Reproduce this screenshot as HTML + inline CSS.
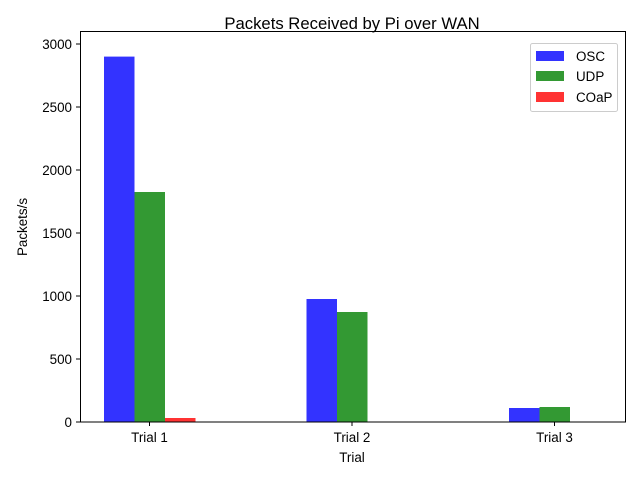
<!DOCTYPE html>
<html><head><style>body{margin:0;background:#fff}svg{display:block}text{font-family:"Liberation Sans",sans-serif;fill:#000}</style></head>
<body>
<svg width="640" height="480" xmlns="http://www.w3.org/2000/svg">
<rect width="640" height="480" fill="#fff"/>
<rect x="104" y="56.6" width="30.5" height="365.4" fill="#3333ff"/>
<rect x="134.5" y="192" width="30.5" height="230" fill="#339933"/>
<rect x="165" y="418" width="30.5" height="4" fill="#ff3333"/>
<rect x="306.5" y="299" width="30.5" height="123" fill="#3333ff"/>
<rect x="337" y="312" width="30.5" height="110" fill="#339933"/>
<rect x="509" y="408" width="30.5" height="14" fill="#3333ff"/>
<rect x="539.5" y="407" width="30.5" height="15" fill="#339933"/>
<rect x="80.5" y="31.5" width="545" height="390.5" fill="none" stroke="#000" stroke-width="1"/>
<g stroke="#000" stroke-width="1">
<line x1="76" x2="80" y1="422" y2="422"/>
<line x1="76" x2="80" y1="359" y2="359"/>
<line x1="76" x2="80" y1="296" y2="296"/>
<line x1="76" x2="80" y1="233" y2="233"/>
<line x1="76" x2="80" y1="170" y2="170"/>
<line x1="76" x2="80" y1="107" y2="107"/>
<line x1="76" x2="80" y1="44" y2="44"/>
<line x1="149.5" x2="149.5" y1="422" y2="426"/>
<line x1="352" x2="352" y1="422" y2="426"/>
<line x1="554.5" x2="554.5" y1="422" y2="426"/>
</g>
<g font-size="13.4" text-anchor="end">
<text x="72" y="427">0</text>
<text x="72" y="364">500</text>
<text x="72" y="301">1000</text>
<text x="72" y="238">1500</text>
<text x="72" y="175">2000</text>
<text x="72" y="112">2500</text>
<text x="72" y="49">3000</text>
</g>
<g font-size="13.4" text-anchor="middle">
<text x="149.5" y="442">Trial 1</text>
<text x="352" y="442">Trial 2</text>
<text x="554.5" y="442">Trial 3</text>
<text x="352" y="462">Trial</text>
</g>
<text x="27" y="227" font-size="13.4" text-anchor="middle" transform="rotate(-90 27 227)">Packets/s</text>
<text x="352" y="29" font-size="16.7" text-anchor="middle">Packets Received by Pi over WAN</text>
<rect x="530.5" y="43.5" width="87" height="68" rx="2" fill="#fff" stroke="#ccc"/>
<rect x="536" y="51" width="28" height="10" fill="#3333ff"/>
<rect x="536" y="71" width="28" height="10" fill="#339933"/>
<rect x="536" y="92" width="28" height="10" fill="#ff3333"/>
<g font-size="13.4">
<text x="576" y="61">OSC</text>
<text x="576" y="81">UDP</text>
<text x="576" y="102">COaP</text>
</g>
</svg>
</body></html>
